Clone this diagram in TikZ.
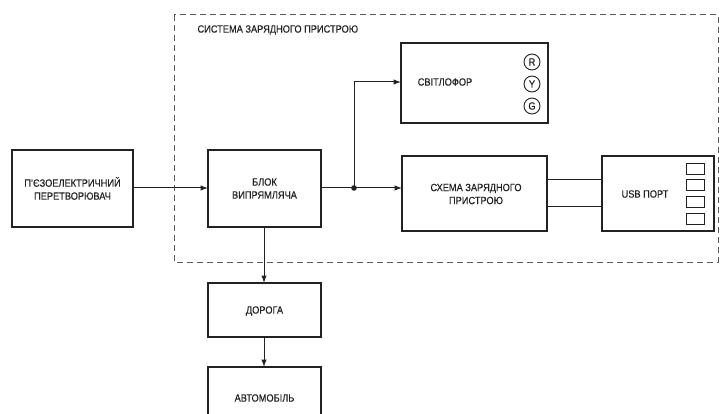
\documentclass[tikz,border=0pt]{standalone}
\usepackage{fontspec}
\setmainfont{Liberation Sans}[FakeStretch=0.88,FakeBold=0.25]
\usetikzlibrary{arrows.meta}
\definecolor{ink}{HTML}{222222}
\definecolor{framegrey}{HTML}{5A5A5A}
\begin{document}
\begin{tikzpicture}[x=1pt,y=-1pt,
  blk/.style={draw=ink,line width=1.1pt,inner sep=0pt},
  lbl/.style={font=\fontsize{10.5}{13}\selectfont,text=ink,align=center},
  conn/.style={draw=ink,line width=1pt},
  arr/.style={conn,-{Latex[length=7.5pt,width=5.5pt]}},
  lamp/.style={circle,draw=ink,line width=0.9pt,minimum size=16pt,inner sep=0pt,font=\fontsize{10.5}{10}\selectfont,text=ink},
  slot/.style={draw=ink,line width=0.9pt}]
\useasboundingbox (0,0) rectangle (720,414);
\clip (0,0) rectangle (720,414);
\fill[white] (0,0) rectangle (720,414);
% system frame
\draw[draw=framegrey,line width=1pt,dash pattern=on 6pt off 4pt] (174,15) rectangle (718,262);
\node[lbl,anchor=west] (title) at (194,30) {СИСТЕМА ЗАРЯДНОГО ПРИСТРОЮ};
% boxes
\draw[blk] (12,150) rectangle (133,227);
\node[lbl] (piezo) at (72.5,188.5) {П'ЄЗОЕЛЕКТРИЧНИЙ\\ПЕРЕТВОРЮВАЧ};
\coordinate (piezoR) at (133,188);
\draw[blk] (208,150) rectangle (321,227);
\node[lbl] (rect) at (264.5,188.5) {БЛОК\\ВИПРЯМЛЯЧА};
\coordinate (rectL) at (208,188);
\coordinate (rectR) at (321,188);
\coordinate (rectB) at (264,227);
\draw[blk] (401,43) rectangle (548,123);
\node[lbl] (light) at (445,82) {СВІТЛОФОР};
\coordinate (lightL) at (401,82);
\node[lamp] (R) at (532,62) {R};
\node[lamp] (Y) at (532,84) {Y};
\node[lamp] (G) at (532,106) {G};
\draw[blk] (402,156) rectangle (547,231);
\node[lbl] (charge) at (476,194) {СХЕМА ЗАРЯДНОГО\\ПРИСТРОЮ};
\coordinate (chargeL) at (402,188);
\coordinate (chargeR1) at (547,180);
\coordinate (chargeR2) at (547,207);
\draw[blk] (602,156) rectangle (714,231);
\node[lbl] (usb) at (645,194) {USB ПОРТ};
\coordinate (usbL1) at (602,180);
\coordinate (usbL2) at (602,207);
\foreach \t in {163,179.5,196.5,213}
  \draw[slot] (686,\t) rectangle (704,\t+11);
\draw[blk] (208,283) rectangle (321,337);
\node[lbl] (road) at (264.5,311) {ДОРОГА};
\coordinate (roadT) at (264,283);
\coordinate (roadB) at (264,337);
\draw[blk] (208,367) rectangle (321,440);
\node[lbl] (car) at (264.5,398) {АВТОМОБІЛЬ};
\coordinate (carT) at (264,367);
% connectors
\draw[arr] (piezoR) -- (rectL);
\coordinate (jn) at (354,188);
\draw[conn] (rectR) -- (jn);
\draw[arr] (jn) -- (chargeL);
\draw[arr] (jn) |- (lightL);
\fill[ink] (jn) circle (2.8pt);
\draw[conn] (chargeR1) -- (usbL1);
\draw[conn] (chargeR2) -- (usbL2);
\draw[arr] (rectB) -- (roadT);
\draw[arr] (roadB) -- (carT);
\end{tikzpicture}
\end{document}
